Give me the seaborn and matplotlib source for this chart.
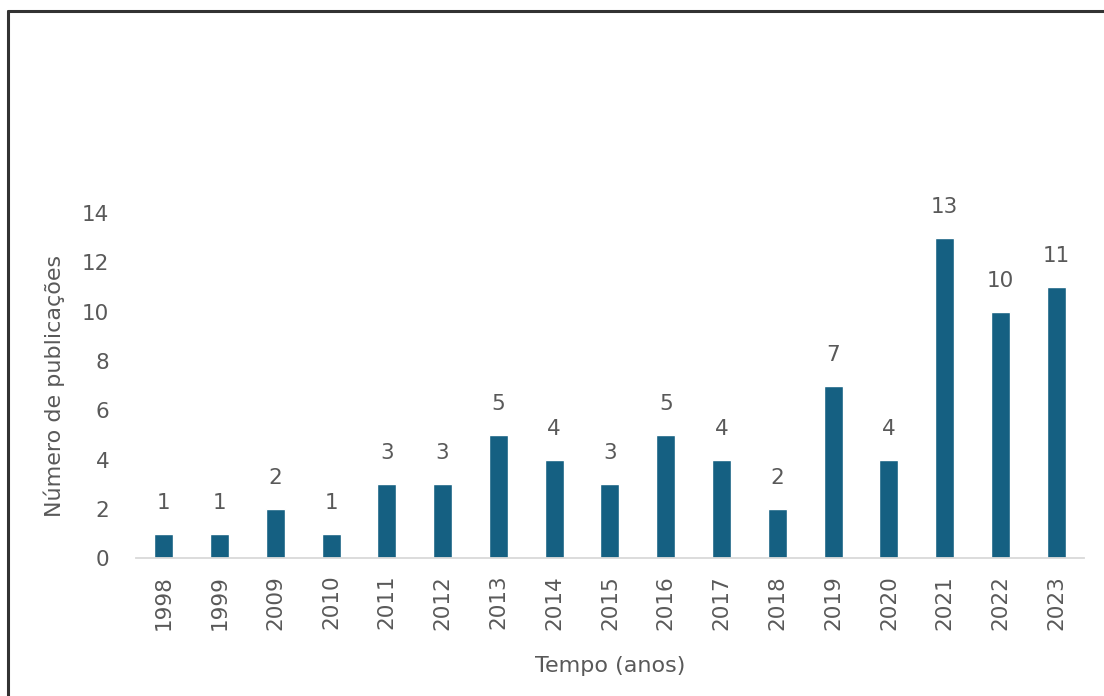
import numpy as np
import pandas as pd
import matplotlib.pyplot as plt
from matplotlib.lines import Line2D
import seaborn as sns

# publicacoes por ano
anos = ['1998', '1999', '2009', '2010', '2011', '2012', '2013', '2014', '2015',
        '2016', '2017', '2018', '2019', '2020', '2021', '2022', '2023']
publicacoes = [1, 1, 2, 1, 3, 3, 5, 4, 3, 5, 4, 2, 7, 4, 13, 10, 11]
yticks = [0, 2, 4, 6, 8, 10, 12, 14]

sns.set_style('white')
plt.rcParams['font.family'] = ['DejaVu Sans']

cinza = '#595959'
azul = '#156082'

data = pd.DataFrame({'ano': anos, 'n': publicacoes})

fig = plt.figure(figsize=(11.04, 6.96), dpi=100)
ax = fig.add_axes([0.123, 0.198, 0.859, 0.496])

sns.barplot(data=data, x='ano', y='n', color=azul, saturation=1, width=0.34, ax=ax)

ax.bar_label(ax.containers[0], padding=15, fontsize=15.5, color=cinza, clip_on=False)

ax.set_ylim(0, 14)
ax.set_xlim(-0.5, len(anos) - 0.5)
ax.set_yticks(yticks)
ax.tick_params(axis='y', length=0, pad=19, labelsize=15.5, labelcolor=cinza)
ax.tick_params(axis='x', length=0, pad=12, labelsize=15.5, labelcolor=cinza, rotation=90)

ax.set_ylabel('Número de publicações', fontsize=16, color=cinza, labelpad=12)
ax.set_xlabel('Tempo (anos)', fontsize=16, color=cinza, labelpad=19)

for s in ['top', 'right', 'left']:
    ax.spines[s].set_visible(False)
ax.spines['bottom'].set_color('#D9D9D9')
ax.spines['bottom'].set_linewidth(1.3)

# moldura da figura (so esquerda e topo aparecem no recorte)
fig.add_artist(Line2D([8 / 1104, 8 / 1104], [0, 1 - 11 / 696], color='#333333', lw=2.2))
fig.add_artist(Line2D([8 / 1104, 1], [1 - 11 / 696, 1 - 11 / 696], color='#333333', lw=2.2))

fig.savefig('out.png', dpi=100)
